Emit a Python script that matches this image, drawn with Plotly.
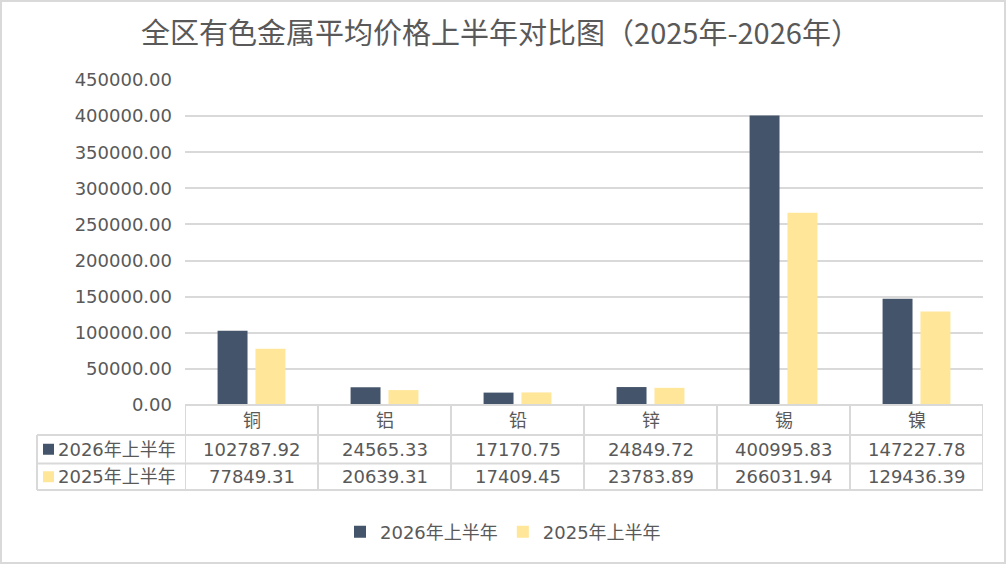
import plotly.graph_objects as go

# Data
metals = ["铜", "铝", "铅", "锌", "锡", "镍"]
series_names = ["2026年上半年", "2025年上半年"]
price_2026 = [102787.92, 24565.33, 17170.75, 24849.72, 400995.83, 147227.78]
price_2025 = [77849.31, 20639.31, 17409.45, 23783.89, 266031.94, 129436.39]
colors = ["#44546A", "#FFE699"]

W, H = 1007, 565
ML, MR, MT, MB = 185, 24, 80, 160
PW, PH = W - ML - MR, H - MT - MB
TXT = "#595959"
GRID = "#D9D9D9"
FONT = "DejaVu Sans, Noto Sans CJK SC"


def px_x(p):
    return (p - ML) / PW


def px_y(p):
    return (H - MB - p) / PH


fig = go.Figure()
for name, vals, col in zip(series_names, [price_2026, price_2025], colors):
    fig.add_trace(go.Bar(x=metals, y=vals, name=name, marker_color=col,
                         marker_line_width=0))

# data table under the plot
row_lines = [405, 435, 463.5, 490]
shapes = []
# horizontal lines
for r in row_lines[:2]:
    shapes.append(dict(type="line", xref="x", yref="paper", x0=-0.5, x1=5.5,
                       y0=px_y(r), y1=px_y(r)))
for r in row_lines[1:]:
    shapes.append(dict(type="line", xref="paper", yref="paper", x0=px_x(37), x1=1,
                       y0=px_y(r), y1=px_y(r)))
# vertical lines
for i in range(len(metals) + 1):
    shapes.append(dict(type="line", xref="x", yref="paper", x0=i - 0.5, x1=i - 0.5,
                       y0=px_y(row_lines[0]), y1=px_y(row_lines[-1])))
shapes.append(dict(type="line", xref="paper", yref="paper", x0=px_x(37), x1=px_x(37),
                   y0=px_y(row_lines[1]), y1=px_y(row_lines[-1])))
for s in shapes:
    s["line"] = dict(color=GRID, width=2)
    s["layer"] = "above"

# legend keys in the table
for k, col in enumerate(colors):
    cy = (row_lines[k + 1] + row_lines[k + 2]) / 2
    shapes.append(dict(type="rect", xref="paper", yref="paper", x0=px_x(43), x1=px_x(54),
                       y0=px_y(cy + 5.5), y1=px_y(cy - 5.5), fillcolor=col,
                       line=dict(width=0)))

# outer chart border
shapes.append(dict(type="rect", xref="paper", yref="paper", x0=px_x(1), x1=px_x(1005),
                   y0=px_y(563), y1=px_y(1), line=dict(color=GRID, width=2)))

annotations = []
cat_y = px_y((row_lines[0] + row_lines[1]) / 2)
for m in metals:
    annotations.append(dict(x=m, y=cat_y, xref="x", yref="paper", text=m,
                            xanchor="center", yanchor="middle",
                            showarrow=False, font=dict(size=18, color=TXT)))
for k, vals in enumerate([price_2026, price_2025]):
    ry = px_y((row_lines[k + 1] + row_lines[k + 2]) / 2)
    annotations.append(dict(x=px_x(56), y=ry, xref="paper", yref="paper",
                            text=series_names[k], xanchor="left", yanchor="middle",
                            showarrow=False, font=dict(size=18, color=TXT)))
    for m, v in zip(metals, vals):
        annotations.append(dict(x=m, y=ry, xref="x", yref="paper", text=f"{v:.2f}",
                                xanchor="center", yanchor="middle",
                                showarrow=False, font=dict(size=18, color=TXT)))

fig.update_layout(
    width=W, height=H,
    margin=dict(l=ML, r=MR, t=MT, b=MB),
    paper_bgcolor="white", plot_bgcolor="white",
    font=dict(family=FONT, color=TXT, size=18),
    title=dict(text="全区有色金属平均价格上半年对比图（2025年-2026年）",
               x=0.497, xanchor="center", xref="container",
               y=1 - 34 / H, yanchor="middle", yref="container",
               font=dict(size=29, color=TXT, family="Noto Sans CJK SC")),
    barmode="group", bargap=0.43, bargroupgap=0.21,
    xaxis=dict(range=[-0.5, 5.5], showticklabels=False, showgrid=False,
               showline=False, zeroline=False, fixedrange=True),
    yaxis=dict(range=[0, 450000], dtick=50000, tickformat=".2f",
               showgrid=True, gridcolor=GRID, gridwidth=2, zeroline=False,
               showline=False, ticklabelstandoff=12, fixedrange=True,
               tickfont=dict(size=18, color=TXT)),
    legend=dict(orientation="h", x=px_x(503), xanchor="center",
                y=px_y(532), yanchor="middle", font=dict(size=18, color=TXT),
                itemwidth=30),
    shapes=shapes,
    annotations=annotations,
)

fig.write_html("out.html", config={"displayModeBar": False},
               post_script="document.body.style.margin='0';")
